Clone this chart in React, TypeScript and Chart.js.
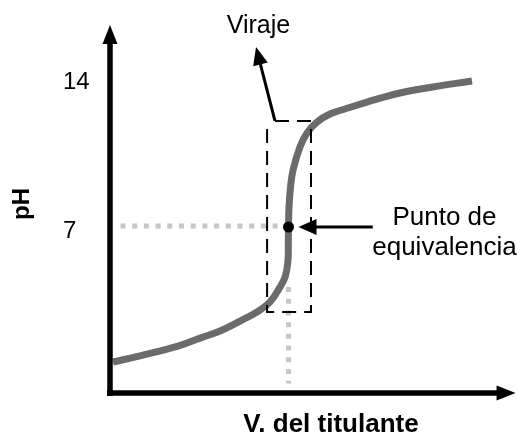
import React, { useEffect, useRef } from 'react';
import { Chart, registerables } from 'chart.js';

Chart.register(...registerables);

// ---- data ----
const volumes = [0.42, 4.62, 9.52, 12.6, 15.41, 18.21, 20.59, 22.41, 23.81, 24.57, 24.93, 24.97, 25.0, 25.07, 25.28, 25.63, 26.6, 27.6, 29.0, 30.8, 32.9, 36.0, 40.6, 45.2, 50.7];
const phValues = [0.57, 0.9, 1.33, 1.71, 2.05, 2.52, 2.95, 3.43, 4.14, 4.67, 5.43, 6.2, 7.0, 7.95, 8.9, 9.7, 10.81, 11.48, 12.0, 12.38, 12.62, 12.95, 13.38, 13.67, 13.95];
const eqVolume = [25];
const eqPH = [7];
const yTicks = [7, 14];
const virajeVolumes = [22.0, 28.15];
const virajePH = [2.95, 12.05];
const xRange = [0, 57];
const yRange = [-1, 17];
const xTitle = 'V. del titulante';
const yTitle = 'pH';
const virajeLabel = 'Viraje';
const eqLabel = ['Punto de', 'equivalencia'];

const FONT = '"Liberation Sans", Arial, Helvetica, sans-serif';

function arrow(ctx: CanvasRenderingContext2D, x1: number, y1: number, x2: number, y2: number, lw: number, len: number, hw: number) {
  const a = Math.atan2(y2 - y1, x2 - x1);
  const bx = x2 - Math.cos(a) * len;
  const by = y2 - Math.sin(a) * len;
  ctx.lineWidth = lw;
  ctx.setLineDash([]);
  ctx.lineCap = 'butt';
  ctx.beginPath();
  ctx.moveTo(x1, y1);
  ctx.lineTo(bx + Math.cos(a) * 3, by + Math.sin(a) * 3);
  ctx.stroke();
  ctx.beginPath();
  ctx.moveTo(x2, y2);
  ctx.lineTo(bx + Math.sin(a) * hw, by - Math.cos(a) * hw);
  ctx.lineTo(bx - Math.sin(a) * hw, by + Math.cos(a) * hw);
  ctx.closePath();
  ctx.fill();
}

const annotations = {
  id: 'titrationAnnotations',
  beforeDatasetsDraw(chart: any) {
    const { ctx, scales } = chart;
    const x = scales.x, y = scales.y;
    ctx.save();
    ctx.strokeStyle = '#c6c6c6';
    ctx.lineWidth = 5;
    ctx.lineCap = 'butt';
    ctx.setLineDash([5, 6.7]);
    const ey = y.getPixelForValue(eqPH[0]) - 1;
    ctx.beginPath();
    ctx.moveTo(x.getPixelForValue(1.47), ey);
    ctx.lineTo(x.getPixelForValue(eqVolume[0] - 0.6), ey);
    ctx.stroke();
    const ex = x.getPixelForValue(eqVolume[0]);
    ctx.beginPath();
    ctx.moveTo(ex, y.getPixelForValue(4.14));
    ctx.lineTo(ex, y.getPixelForValue(-0.45));
    ctx.stroke();
    ctx.restore();
  },
  afterDatasetsDraw(chart: any) {
    const { ctx, scales } = chart;
    const x = scales.x, y = scales.y;
    ctx.save();
    ctx.strokeStyle = '#000';
    ctx.fillStyle = '#000';

    // viraje dashed box
    const l = x.getPixelForValue(virajeVolumes[0]);
    const r = x.getPixelForValue(virajeVolumes[1]);
    const t = y.getPixelForValue(virajePH[1]);
    const b = y.getPixelForValue(virajePH[0]);
    const ax = x.getPixelForValue(23.1);
    ctx.lineWidth = 2;
    ctx.setLineDash([14, 8]);
    ctx.beginPath();
    ctx.moveTo(ax, t);
    ctx.lineTo(r, t);
    ctx.lineTo(r, b);
    ctx.lineTo(l, b);
    ctx.lineTo(l, t);
    ctx.stroke();

    // viraje arrow
    arrow(ctx, ax, t, x.getPixelForValue(20.45), y.getPixelForValue(15.57), 3, 18, 7.5);

    // equivalence arrow
    const ey = y.getPixelForValue(eqPH[0]);
    arrow(ctx, x.getPixelForValue(36.8), ey, x.getPixelForValue(26.4), ey, 3, 18, 8);

    // axes
    const ox = x.getPixelForValue(0);
    const oy = y.getPixelForValue(-0.9);
    arrow(ctx, ox, oy + 3, ox, y.getPixelForValue(16.62), 5.5, 19, 7.5);
    arrow(ctx, ox - 3, oy, x.getPixelForValue(56.8), oy, 5.5, 19, 7.5);

    // tick labels
    ctx.font = `24px ${FONT}`;
    ctx.textAlign = 'left';
    ctx.textBaseline = 'alphabetic';
    yTicks.forEach((v) => {
      ctx.fillText(String(v), 63, y.getPixelForValue(v) + 9 + (v === 7 ? 2 : 0));
    });

    // axis titles
    ctx.font = `bold 26px ${FONT}`;
    ctx.textAlign = 'center';
    ctx.fillText(xTitle, 331, 432);
    ctx.save();
    ctx.translate(29, 204);
    ctx.rotate(-Math.PI / 2);
    ctx.font = `bold 24px ${FONT}`;
    ctx.fillText(yTitle, 0, 0);
    ctx.restore();

    // annotation labels
    ctx.font = `25px ${FONT}`;
    ctx.textAlign = 'center';
    ctx.fillText(virajeLabel, 258.5, 33);
    ctx.font = `26px ${FONT}`;
    ctx.fillText(eqLabel[0], 444.5, 225);
    ctx.fillText(eqLabel[1], 444.5, 255);
    ctx.restore();
  },
};

export default function App() {
  const ref = useRef<HTMLCanvasElement | null>(null);
  useEffect(() => {
    if (!ref.current) return;
    const chart = new Chart(ref.current, {
      type: 'line',
      data: {
        datasets: [
          {
            label: 'eq',
            data: eqVolume.map((v, i) => ({ x: v, y: eqPH[i] })),
            borderColor: '#000',
            backgroundColor: '#000',
            pointRadius: 5.5,
            pointBorderWidth: 0,
            showLine: false,
            order: 0,
          },
          {
            label: 'pH',
            data: volumes.map((v, i) => ({ x: v, y: phValues[i] })),
            borderColor: '#6b6b6b',
            borderWidth: 7,
            pointRadius: 0,
            fill: false,
            tension: 0.4,
            borderCapStyle: 'butt',
            borderJoinStyle: 'round',
            order: 1,
          },
        ],
      },
      options: {
        responsive: false,
        animation: false,
        devicePixelRatio: 1,
        layout: { autoPadding: false, padding: { left: 110, right: 0, top: 17, bottom: 44 } },
        plugins: { legend: { display: false }, tooltip: { enabled: false } },
        scales: {
          x: { type: 'linear', min: xRange[0], max: xRange[1], display: false },
          y: { type: 'linear', min: yRange[0], max: yRange[1], display: false },
        },
      } as any,
      plugins: [annotations],
    });
    return () => chart.destroy();
  }, []);
  return (
    <div style={{ position: 'fixed', left: 0, top: 0, width: 517, height: 439, background: '#fff' }}>
      <canvas ref={ref} width={517} height={439} style={{ display: 'block' }} />
    </div>
  );
}
